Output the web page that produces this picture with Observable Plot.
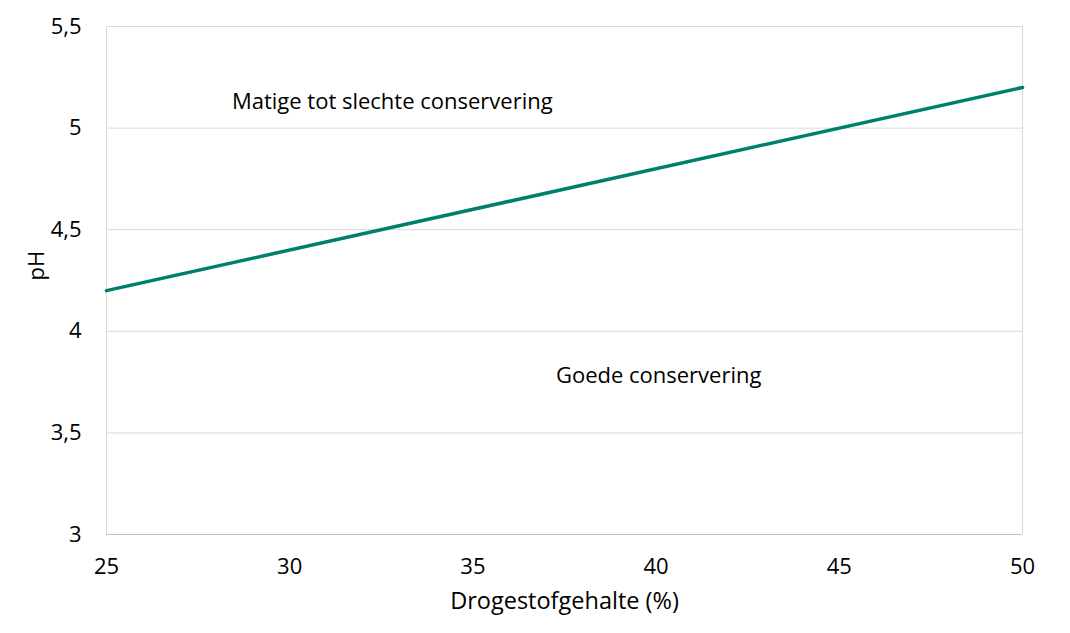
<!DOCTYPE html>
<html>
<head>
<meta charset="utf-8">
<script src="https://cdn.jsdelivr.net/npm/d3@7"></script>
<script src="https://cdn.jsdelivr.net/npm/@observablehq/plot@0.6"></script>
<style>
  html, body { margin: 0; padding: 0; background: #fff; }
  #chart svg { display: block; }
</style>
</head>
<body>
<div id="chart"></div>
<script>
const drogestof = [25, 50];
const phGrens = [4.2, 5.2];
const xTicks = [25, 30, 35, 40, 45, 50];
const yTicks = [3, 3.5, 4, 4.5, 5, 5.5];
const labelTexts = ["Matige tot slechte conservering", "Goede conservering"];
const labelX = [32.8, 40.07];
const labelY = [5.13, 3.78];
const xTitle = "Drogestofgehalte (%)";
const yTitle = "pH";

const lineData = drogestof.map((x, i) => ({x, y: phGrens[i]}));
const labelData = labelTexts.map((t, i) => ({t, x: labelX[i], y: labelY[i]}));
const fmt = d => String(d).replace(".", ",");

const chart = Plot.plot({
  width: 1070,
  height: 633,
  marginLeft: 106,
  marginRight: 48,
  marginTop: 26,
  marginBottom: 99,
  style: {fontFamily: "'Open Sans', sans-serif", fontSize: "22px", color: "#000", background: "#fff"},
  x: {domain: [25, 50]},
  y: {domain: [3, 5.5]},
  marks: [
    Plot.gridY(yTicks, {stroke: "#d9d9d9", strokeOpacity: 1, strokeWidth: 1}),
    Plot.ruleX([25, 50], {stroke: "#d9d9d9", strokeWidth: 1}),
    Plot.ruleY([3], {stroke: "#bfbfbf", strokeWidth: 1.2}),
    Plot.axisX({ticks: xTicks, tickSize: 0, tickPadding: 24, tickFormat: fmt, label: null, fontSize: 22}),
    Plot.axisY({ticks: yTicks, tickSize: 0, tickPadding: 25, tickFormat: fmt, label: null, fontSize: 22}),
    Plot.text([xTitle], {frameAnchor: "bottom", dy: 74, text: d => d, fontSize: 23.5, fill: "#000"}),
    Plot.text([yTitle], {frameAnchor: "left", dx: -70, rotate: -90, text: d => d, fontSize: 22, fill: "#000"}),
    Plot.line(lineData, {x: "x", y: "y", stroke: "#00806c", strokeWidth: 3.5}),
    Plot.text(labelData, {x: "x", y: "y", text: "t", fontSize: 22, fill: "#000"})
  ]
});
document.getElementById("chart").appendChild(chart);
</script>
</body>
</html>
